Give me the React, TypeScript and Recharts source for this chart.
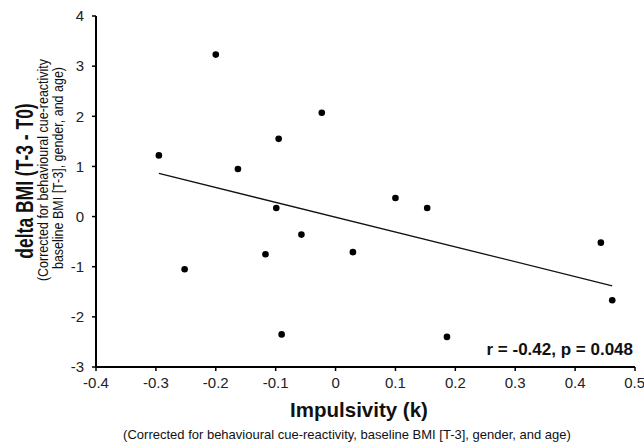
import React from 'react';
import { ScatterChart, Scatter, XAxis, YAxis, ReferenceLine, Label } from 'recharts';

// impulsivity (k) and delta BMI per participant
const impulsivity = [-0.295, -0.2, -0.163, -0.095, -0.023, -0.099, 0.1, 0.153, -0.057, -0.117, -0.252, -0.09, 0.029, 0.443, 0.462, 0.186];
const deltaBmi = [1.22, 3.23, 0.95, 1.55, 2.07, 0.17, 0.37, 0.17, -0.36, -0.75, -1.05, -2.35, -0.71, -0.52, -1.67, -2.4];

// regression line end points
const fitX = [-0.295, 0.462];
const fitY = [0.86, -1.38];

const xTicks = [-0.4, -0.3, -0.2, -0.1, 0, 0.1, 0.2, 0.3, 0.4, 0.5];
const yTicks = [-3, -2, -1, 0, 1, 2, 3, 4];

const FONT = '"Liberation Sans", Arial, sans-serif';

const points = impulsivity.map((k, i) => ({ k, bmi: deltaBmi[i] }));

const Dot = (props: any) => <circle cx={props.cx} cy={props.cy} r={3.3} fill="#000" />;

const XTitle = () => (
  <g fontFamily={FONT} fill="#111">
    <text x={359} y={417} textAnchor="middle" fontSize={20.5} fontWeight="bold">Impulsivity (k)</text>
    <text x={347} y={439} textAnchor="middle" fontSize={13}>
      (Corrected for behavioural cue-reactivity, baseline BMI [T-3], gender, and age)
    </text>
    <text x={633} y={355} textAnchor="end" fontSize={17} fontWeight="bold">r = -0.42, p = 0.048</text>
  </g>
);

// the original figure's vertical titles are wider than they are long, hence the x stretch
const YTitle = () => (
  <g fontFamily={FONT} fill="#111">
    <text x={0} y={0} transform="translate(33,181) scale(1.4,1) rotate(-90)" textAnchor="middle" fontSize={17.5} fontWeight="bold">
      delta BMI (T-3 - T0)
    </text>
    <text x={0} y={0} transform="translate(48,170) scale(1.2,1) rotate(-90)" textAnchor="middle" fontSize={12.5}>
      (Corrected for behavioural cue-reactivity
    </text>
    <text x={0} y={0} transform="translate(63,168) scale(1.2,1) rotate(-90)" textAnchor="middle" fontSize={12.5}>
      baseline BMI [T-3], gender, and age)
    </text>
  </g>
);

export default function App() {
  return (
    <div style={{ position: 'absolute', left: 0, top: 0, width: 644, height: 446, background: '#fff' }}>
      <ScatterChart width={644} height={446} margin={{ top: 16, right: 9, left: 0, bottom: 0 }}>
        <XAxis
          type="number"
          dataKey="k"
          domain={[-0.4, 0.5]}
          ticks={xTicks}
          tickFormatter={(v: number) => String(Math.round(v * 10) / 10)}
          height={79}
          axisLine={{ stroke: '#000', strokeWidth: 2 }}
          tickLine={{ stroke: '#000', strokeWidth: 1.5 }}
          tickSize={4}
          tickMargin={6}
          tick={{ fill: '#222', fontSize: 15, fontFamily: FONT }}
          allowDataOverflow
        >
          <Label content={<XTitle />} />
        </XAxis>
        <YAxis
          type="number"
          dataKey="bmi"
          domain={[-3, 4]}
          ticks={yTicks}
          width={96}
          axisLine={{ stroke: '#000', strokeWidth: 2 }}
          tickLine={{ stroke: '#000', strokeWidth: 1.5 }}
          tickSize={4}
          tickMargin={8}
          tick={{ fill: '#222', fontSize: 15, fontFamily: FONT }}
          allowDataOverflow
        >
          <Label content={<YTitle />} />
        </YAxis>
        <ReferenceLine
          segment={[{ x: fitX[0], y: fitY[0] }, { x: fitX[1], y: fitY[1] }]}
          stroke="#111"
          strokeWidth={1.3}
        />
        <Scatter data={points} shape={<Dot />} isAnimationActive={false} />
      </ScatterChart>
    </div>
  );
}
